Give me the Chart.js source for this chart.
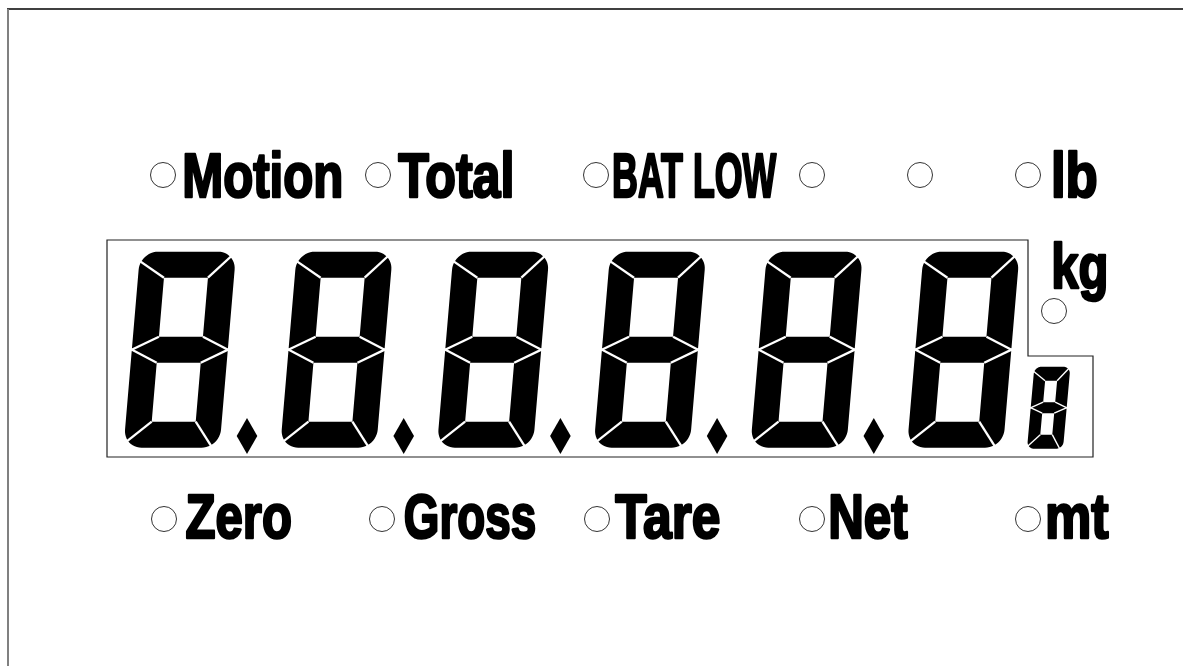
<!DOCTYPE html>
<html><head><meta charset="utf-8">
<script src="https://cdn.jsdelivr.net/npm/chart.js@4.4.1/dist/chart.umd.min.js"></script>
<style>html,body{margin:0;padding:0;background:#fff;} canvas{display:block;}</style>
</head><body>
<canvas id="c" width="1183" height="666"></canvas>
<script>
// ---- content (what the display shows) ----
const displayDigits = ['8','8','8','8','8','8'];
const auxDigits = ['8'];
const decimalPoints = [1,1,1,1,1];
const topLabels = ['Motion','Total','BAT LOW','','','lb'];
const sideLabels = ['kg'];
const bottomLabels = ['Zero','Gross','Tare','Net','mt'];

// ---- layout (positions in scale units) ----
const layout = {
  digitX0: 123.5, digitPitch: 156.7, digitTop: 251.7,
  bigGlyph: {W:96, H:196, tx:26, ty:26, tm:26, r:18, slant:0.085, gap:2.3},
  auxX0: 1027, auxTop: 366.7,
  smallGlyph: {W:36, H:82, tx:12, ty:14, tm:11, r:7, slant:0.09, gap:1.4},
  dpX0: 247, dpY: 436, dpHW: 10.3, dpHH: 18,
  box: [[107,240],[1028,240],[1028,356],[1093,356],[1093,457],[107,457]],
  topCircleX: [163,378,596,812,920,1028], topCy: 175,
  topText: [[184,342],[397,513],[613,778],null,null,[1053,1097]], topBase: 197,
  sideCircle: [1054,311], sideText: [[1053,1107]], sideBase: 288,
  bottomCircleX: [164,382,597,812,1028], bottomCy: 519,
  bottomText: [[185,292],[404,536],[614,720],[830,909],[1047,1110]], bottomBase: 538,
  circleR: 12.5
};

const circlePoints = [];
topLabels.forEach((t,i)=>circlePoints.push({x:layout.topCircleX[i], y:layout.topCy}));
sideLabels.forEach(()=>circlePoints.push({x:layout.sideCircle[0], y:layout.sideCircle[1]}));
bottomLabels.forEach((t,i)=>circlePoints.push({x:layout.bottomCircleX[i], y:layout.bottomCy}));

function rrPts(w,h,r,n){
  const pts=[]; const cs=[[w-r,r,-90],[w-r,h-r,0],[r,h-r,90],[r,r,180]];
  for (const [cx,cy,a0] of cs){
    for(let i=0;i<=n;i++){const a=(a0+90*i/n)*Math.PI/180; pts.push([cx+r*Math.cos(a), cy+r*Math.sin(a)]);}
  }
  return pts;
}

function drawDigit(ctx, X, Y, x0, y0, g){
  const P = (u,v) => [X(x0 + u + g.slant*(g.H - v)), Y(y0 + v)];
  const {W,H,tx,ty,tm,r} = g;
  ctx.beginPath();
  rrPts(W,H,r,12).forEach((p,i)=>{const q=P(p[0],p[1]); i?ctx.lineTo(q[0],q[1]):ctx.moveTo(q[0],q[1]);});
  ctx.closePath();
  const m1=(H-tm)/2, m2=(H+tm)/2;
  [[ty,m1],[m2,H-ty]].forEach(([a,b])=>{
    [[tx,a],[W-tx,a],[W-tx,b],[tx,b]].forEach((p,i)=>{const q=P(p[0],p[1]); i?ctx.lineTo(q[0],q[1]):ctx.moveTo(q[0],q[1]);});
    ctx.closePath();
  });
  ctx.fillStyle='#000'; ctx.fill('evenodd');
  const gaps=[[[tx,ty],[0,ty*0.35]],[[W-tx,ty],[W,0]],
    [[tx,m1],[0,H/2]],[[tx,m2],[0,H/2]],[[W-tx,m1],[W,H/2]],[[W-tx,m2],[W,H/2]],
    [[tx,H-ty],[0,H-ty*0.15]],[[W-tx,H-ty],[W-tx*0.28,H]]];
  ctx.strokeStyle='#fff'; ctx.lineWidth=g.gap; ctx.lineCap='butt';
  gaps.forEach(([a,b])=>{
    const e=[b[0]+(b[0]-a[0])*0.2, b[1]+(b[1]-a[1])*0.2];
    const p=P(a[0],a[1]), q=P(e[0],e[1]);
    ctx.beginPath(); ctx.moveTo(p[0],p[1]); ctx.lineTo(q[0],q[1]); ctx.stroke();
  });
}

function drawLabel(ctx, X, Y, text, lr, base){
  if(!text || !lr) return;
  const fs=63;
  ctx.save();
  ctx.font = 'bold '+fs+'px "Liberation Sans", Arial, sans-serif';
  ctx.textAlign='left'; ctx.textBaseline='alphabetic';
  const m = ctx.measureText(text);
  const inkW = m.actualBoundingBoxRight + m.actualBoundingBoxLeft;
  const lw = 2.6;
  const left = X(lr[0]) + lw/2, right = X(lr[1]) - lw/2;
  const sx = (right-left)/inkW;
  ctx.translate(left, Y(base));
  ctx.scale(sx,1);
  ctx.fillStyle='#000'; ctx.strokeStyle='#000'; ctx.lineWidth=lw; ctx.lineJoin='round';
  ctx.fillText(text, m.actualBoundingBoxLeft, 0);
  ctx.strokeText(text, m.actualBoundingBoxLeft, 0);
  ctx.restore();
}

const lcdPlugin = {
  id:'lcd',
  beforeDatasetsDraw(chart){
    const ctx=chart.ctx, sx=chart.scales.x, sy=chart.scales.y;
    const X=v=>sx.getPixelForValue(v), Y=v=>sy.getPixelForValue(v);
    ctx.save();
    // outer frame (top and left)
    ctx.strokeStyle='#000'; ctx.lineWidth=1.5;
    ctx.beginPath(); ctx.moveTo(X(7),Y(9)); ctx.lineTo(X(1183),Y(9)); ctx.stroke();
    ctx.strokeStyle='#808080'; ctx.lineWidth=2;
    ctx.beginPath(); ctx.moveTo(X(8),Y(9)); ctx.lineTo(X(8),Y(666)); ctx.stroke();
    // display window
    ctx.strokeStyle='#222'; ctx.lineWidth=1.2;
    ctx.beginPath();
    layout.box.forEach((p,i)=>{i?ctx.lineTo(X(p[0]),Y(p[1])):ctx.moveTo(X(p[0]),Y(p[1]));});
    ctx.closePath(); ctx.stroke();
    // digits
    displayDigits.forEach((d,i)=>drawDigit(ctx,X,Y,layout.digitX0+i*layout.digitPitch,layout.digitTop,layout.bigGlyph));
    auxDigits.forEach((d,i)=>drawDigit(ctx,X,Y,layout.auxX0,layout.auxTop,layout.smallGlyph));
    // decimal points
    ctx.fillStyle='#000';
    decimalPoints.forEach((on,i)=>{
      if(!on) return;
      const cx=layout.dpX0+i*layout.digitPitch, cy=layout.dpY;
      ctx.beginPath();
      ctx.moveTo(X(cx),Y(cy-layout.dpHH)); ctx.lineTo(X(cx+layout.dpHW),Y(cy));
      ctx.lineTo(X(cx),Y(cy+layout.dpHH)); ctx.lineTo(X(cx-layout.dpHW),Y(cy));
      ctx.closePath(); ctx.fill();
    });
    // labels
    topLabels.forEach((t,i)=>drawLabel(ctx,X,Y,t,layout.topText[i],layout.topBase));
    sideLabels.forEach((t,i)=>drawLabel(ctx,X,Y,t,layout.sideText[i],layout.sideBase));
    bottomLabels.forEach((t,i)=>drawLabel(ctx,X,Y,t,layout.bottomText[i],layout.bottomBase));
    ctx.restore();
  }
};

new Chart(document.getElementById('c'), {
  type:'scatter',
  data:{datasets:[{
    label:'indicators',
    data: circlePoints,
    pointRadius: layout.circleR,
    pointHoverRadius: layout.circleR,
    pointBackgroundColor:'rgba(255,255,255,0)',
    pointBorderColor:'#333',
    pointBorderWidth:1,
    showLine:false,
    clip:false
  }]},
  options:{
    responsive:false, animation:false, devicePixelRatio:1,
    layout:{padding:0, autoPadding:false},
    events:[],
    plugins:{legend:{display:false}, tooltip:{enabled:false}},
    scales:{
      x:{type:'linear', min:0, max:1183, display:false},
      y:{type:'linear', min:0, max:666, reverse:true, display:false}
    }
  },
  plugins:[lcdPlugin]
});
</script>
</body></html>
